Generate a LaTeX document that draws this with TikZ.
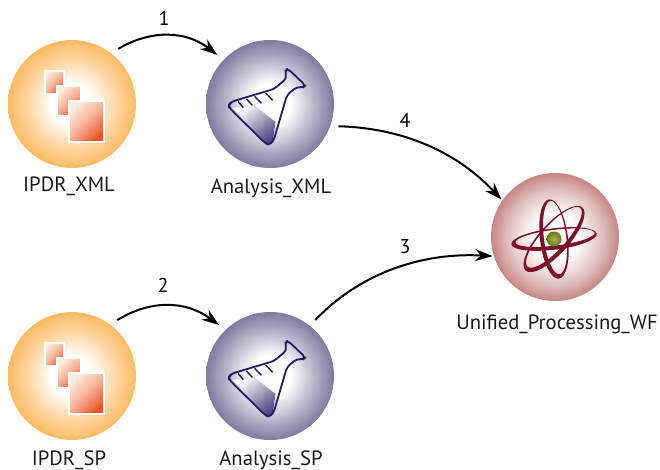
\documentclass[tikz,border=0pt]{standalone}
\usepackage{fontspec}
\setmainfont{PT Sans}
\usetikzlibrary{arrows.meta}
\definecolor{ballO}{HTML}{FDBB66}
\definecolor{ballP}{HTML}{7F7A9F}
\definecolor{ballR}{HTML}{C58583}
\definecolor{docA}{HTML}{FDEBDD}
\definecolor{docM}{HTML}{F8B196}
\definecolor{docB}{HTML}{F0532A}
\definecolor{navy}{HTML}{1F1B66}
\definecolor{liquid}{HTML}{4F4680}
\definecolor{orbit}{HTML}{7C1128}
\definecolor{nucleusA}{HTML}{AEB657}
\definecolor{nucleusB}{HTML}{6A7716}
\pgfdeclareradialshading{orangeball}{\pgfpoint{0bp}{0bp}}{color(0bp)=(white);color(8bp)=(white);color(18bp)=(ballO!65!white);color(25bp)=(ballO);color(50bp)=(ballO)}
\pgfdeclareradialshading{purpleball}{\pgfpoint{0bp}{0bp}}{color(0bp)=(white);color(8bp)=(white);color(18bp)=(ballP!60!white);color(25bp)=(ballP);color(50bp)=(ballP)}
\pgfdeclareradialshading{redball}{\pgfpoint{0bp}{0bp}}{color(0bp)=(white);color(9bp)=(white);color(19bp)=(ballR!55!white);color(25bp)=(ballR);color(50bp)=(ballR)}
\tikzset{
  x=0.75pt, y=-0.75pt,
  ball/.style={circle, inner sep=0pt, minimum size=96pt, outer sep=6pt},
  source/.style={ball, shading=orangeball},
  analysis/.style={ball, shading=purpleball},
  unified/.style={ball, shading=redball, outer sep=1pt},
  caption/.style={font=\fontsize{15.5}{18}\selectfont, text=black!90, inner sep=0pt},
  num/.style={font=\fontsize{15}{17}\selectfont, text=black, inner sep=0pt},
  link/.style={line width=1.5pt, -{Stealth[length=13pt,width=9pt]}, black},
  sheet/.style={draw=white, line width=1.1pt, top color=docA, bottom color=docB, middle color=docM, shading angle=45},
  docs/.pic={
    \path[sheet] (-27,-33) rectangle (-8,-10);
    \path[sheet] (-15,-18) rectangle (9,12);
    \path[sheet] (-3,-3) rectangle (32,38);
  },
  flask/.pic={
    \path[top color=white, bottom color=liquid, shading angle=40]
      (-37,4) -- (-16,1) -- (5.5,18) -- (3,36) -- (0,41) -- (-4.3,39.3) -- cycle;
    \draw[navy, line width=1.35pt, line join=round, rounded corners=2.5pt]
      (-41,0.5) -- (-38,-2.5) -- (4,-15) -- (16.5,-25.5) -- (15,-33) -- (17.7,-35.5) -- (35.5,-18.5)
      -- (33,-16.5) -- (26.7,-17) -- (17,-9) -- (3.5,37) -- (-1,41) -- (-5,39) -- (-41,3.5) -- cycle;
    \draw[navy, line width=1.1pt, line cap=round]
      (-31.7,-2.3) -- (-27,3.3)
      (-23.3,-4.7) -- (-18,1)
      (-15,-7.3) -- (-9,-1)
      (-4,-10.7) -- (2.3,-4);
  },
  atom/.pic={
    \begin{scope}[shift={(-1,2)}]
    \foreach \ang/\a/\b/\dx/\dy in {7/43/10.7/1.2/-1.2, 97/40/14/1.3/1.2, 48/42.5/15/1.2/-1.2}{
      \begin{scope}[rotate=\ang]
        \fill[orbit, even odd rule] (0,0) ellipse [x radius=\a, y radius=\b]
          (\dx,\dy) ellipse [x radius=\a-3, y radius=\b-2.8];
      \end{scope}
    }
    \shade[inner color=nucleusA, outer color=nucleusB] (0,0) circle (7.5);
    \end{scope}
  }
}
\begin{document}
\begin{tikzpicture}
\useasboundingbox (0,0) rectangle (660,470);
\node[source] (ipdrxml) at (72,104) {};
\node[analysis] (anaxml) at (270,104) {};
\node[source] (ipdrsp) at (72,376) {};
\node[analysis] (anasp) at (270,376) {};
\node[unified] (wf) at (555,237) {};
\pic at (ipdrxml.center) {docs};
\pic at (ipdrsp.center) {docs};
\pic at (anaxml.center) {flask};
\pic at (anasp.center) {flask};
\pic at (wf.center) {atom};
\node[caption] (capa) at (69,186) {IPDR\_XML};
\node[caption] (capb) at (271,188) {Analysis\_XML};
\node[caption] (capc) at (557,324) {Unified\_Processing\_WF};
\node[caption] (capd) at (69,460) {IPDR\_SP};
\node[caption] (cape) at (271,460) {Analysis\_SP};
\node[num] (n1) at (164,18) {1};
\node[num] (n2) at (163,285) {2};
\node[num] (n3) at (405,247) {3};
\node[num] (n4) at (405,120) {4};
\draw[link] (ipdrxml.50) .. controls (150,30) and (185,30) .. (anaxml.137);
\draw[link] (ipdrsp.51) .. controls (150,300) and (185,300) .. (anasp.135);
\draw[link] (anaxml.-18) .. controls (400,128) and (455,150) .. (wf.145);
\draw[link] (anasp.51) .. controls (355,278) and (415,252) .. (wf.197);
\end{tikzpicture}
\end{document}
